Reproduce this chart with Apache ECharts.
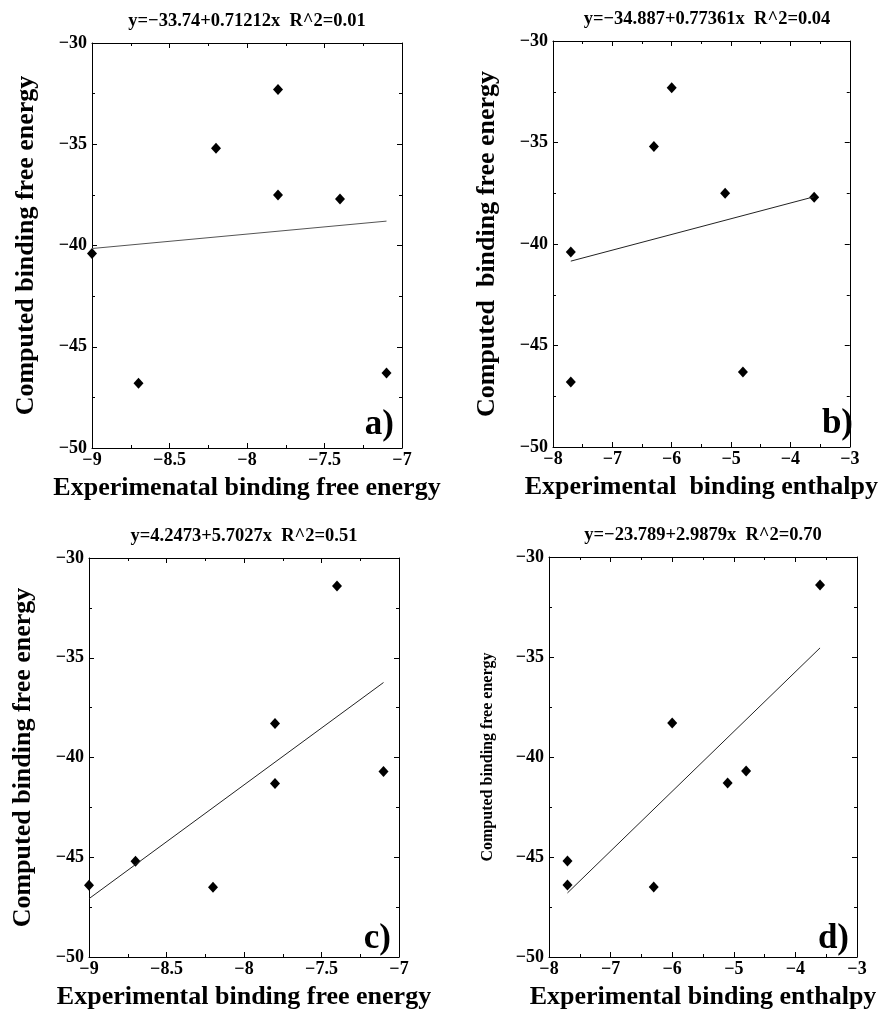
<!DOCTYPE html>
<html>
<head>
<meta charset="utf-8">
<title>Computed vs experimental binding</title>
<script src="https://cdn.jsdelivr.net/npm/echarts@6/dist/echarts.min.js"></script>
<style>
  html, body { margin: 0; padding: 0; background: #fff; }
  #chart { width: 880px; height: 1011px; }
</style>
</head>
<body>
<div id="chart"></div>
<script>
// computed binding free energy, panels a/b (same compounds)
var computedAB = [-32.3, -35.2, -37.5, -37.7, -40.4, -46.8, -46.3];
var expFreeA = [-7.8, -8.2, -7.8, -7.4, -9.0, -8.7, -7.1];
var expEnthB = [-6.0, -6.3, -5.1, -3.6, -7.7, -7.7, -4.8];
// computed binding free energy, panels c/d
var computedCD = [-31.4, -38.3, -40.7, -41.3, -45.2, -46.4, -46.5];
var expFreeC = [-7.4, -7.8, -7.1, -7.8, -8.7, -9.0, -8.2];
var expEnthD = [-3.6, -6.0, -4.8, -5.1, -7.7, -7.7, -6.3];

// regression coefficients from the panel titles
var intercepts = [-33.74, -34.887, 4.2473, -23.789];
var slopes = [0.71212, 0.77361, 5.7027, 2.9879];
var titles = [
  "y=\u221233.74+0.71212x  R^2=0.01",
  "y=\u221234.887+0.77361x  R^2=0.04",
  "y=4.2473+5.7027x  R^2=0.51",
  "y=\u221223.789+2.9879x  R^2=0.70"
];
var xNames = [
  "Experimenatal binding free energy",
  "Experimental  binding enthalpy",
  "Experimental binding free energy",
  "Experimental binding enthalpy"
];
var yNames = [
  "Computed binding free energy",
  "Computed  binding free energy",
  "Computed binding free energy",
  "Computed binding free energy"
];
var panelTags = ["a)", "b)", "c)", "d)"];
var xRanges = [[-9, -7, 0.5], [-8, -3, 1], [-9, -7, 0.5], [-8, -3, 1]];
var yRange = [-50, -30, 5];

var FONT = "Liberation Serif";
var xs = [expFreeA, expEnthB, expFreeC, expEnthD];
var ys = [computedAB, computedAB, computedCD, computedCD];

var grids = [
  { left: 92, top: 43, width: 310, height: 405 },
  { left: 553, top: 41, width: 308, height: 406 },
  { left: 89, top: 558, width: 310, height: 404 },
  { left: 549, top: 557, width: 308, height: 405 }
];
var yNameSize = [26, 26, 26, 16];

function minus(v) {
  return String(v).replace("-", "\u2212");
}

var xAxes = [], yAxes = [], series = [], graphics = [];

grids.forEach(function (g, i) {
  var xr = xRanges[i];
  var tickCommon = { inside: true, length: 5, lineStyle: { color: "#000" } };
  var minorCommon = { show: true, splitNumber: 2, length: 3, lineStyle: { color: "#000" } };
  // bottom + top x axes
  xAxes.push({
    gridIndex: i, type: "value", position: "bottom",
    min: xr[0], max: xr[1], interval: xr[2],
    axisLine: { lineStyle: { color: "#000", width: 1 } },
    axisTick: tickCommon, minorTick: minorCommon,
    splitLine: { show: false },
    axisLabel: { color: "#000", fontFamily: FONT, fontWeight: "bold", fontSize: 18, margin: 3, formatter: minus },
    name: xNames[i], nameLocation: "middle", nameGap: 27,
    nameTextStyle: { color: "#000", fontFamily: FONT, fontWeight: "bold", fontSize: 26 }
  });
  xAxes.push({
    gridIndex: i, type: "value", position: "top",
    min: xr[0], max: xr[1], interval: xr[2],
    axisLine: { lineStyle: { color: "#000", width: 1 } },
    axisTick: tickCommon, minorTick: minorCommon,
    splitLine: { show: false }, axisLabel: { show: false }
  });
  // left + right y axes
  yAxes.push({
    gridIndex: i, type: "value", position: "left",
    min: yRange[0], max: yRange[1], interval: yRange[2],
    axisLine: { show: true, lineStyle: { color: "#000", width: 1 } },
    axisTick: tickCommon, minorTick: minorCommon,
    splitLine: { show: false },
    axisLabel: { color: "#000", fontFamily: FONT, fontWeight: "bold", fontSize: 18, margin: 5, formatter: minus },
    name: yNames[i], nameLocation: "middle", nameGap: 53,
    nameTextStyle: { color: "#000", fontFamily: FONT, fontWeight: "bold", fontSize: yNameSize[i] }
  });
  yAxes.push({
    gridIndex: i, type: "value", position: "right",
    min: yRange[0], max: yRange[1], interval: yRange[2],
    axisLine: { show: true, lineStyle: { color: "#000", width: 1 } },
    axisTick: tickCommon, minorTick: minorCommon,
    splitLine: { show: false }, axisLabel: { show: false }
  });

  var pts = xs[i].map(function (x, k) { return [x, ys[i][k]]; });
  series.push({
    type: "scatter", xAxisIndex: i * 2, yAxisIndex: i * 2,
    data: pts, symbol: "diamond", symbolSize: [10, 11], clip: false,
    itemStyle: { color: "#000", opacity: 1 }, silent: true
  });

  var x0 = Math.min.apply(null, xs[i]);
  var x1 = Math.max.apply(null, xs[i]);
  series.push({
    type: "line", xAxisIndex: i * 2, yAxisIndex: i * 2,
    data: [[x0, intercepts[i] + slopes[i] * x0], [x1, intercepts[i] + slopes[i] * x1]],
    symbol: "none", silent: true,
    lineStyle: { color: i === 0 ? "#555" : "#222", width: 1 }
  });

  // panel title (regression equation)
  graphics.push({
    type: "text", x: g.left + g.width / 2, y: g.top - 31,
    style: { text: titles[i], fill: "#000", font: "bold 18.5px " + FONT, textAlign: "center" }
  });
  // panel tag a) b) c) d)
  graphics.push({
    type: "text", x: g.left + g.width - 8, y: g.top + g.height - 6,
    style: { text: panelTags[i], fill: "#000", font: "bold 35px " + FONT, textAlign: "right", textVerticalAlign: "bottom" }
  });
});

var myChart = echarts.init(document.getElementById("chart"));
myChart.setOption({
  backgroundColor: "#fff",
  animation: false,
  grid: grids,
  xAxis: xAxes,
  yAxis: yAxes,
  series: series,
  graphic: graphics
});
</script>
</body>
</html>
